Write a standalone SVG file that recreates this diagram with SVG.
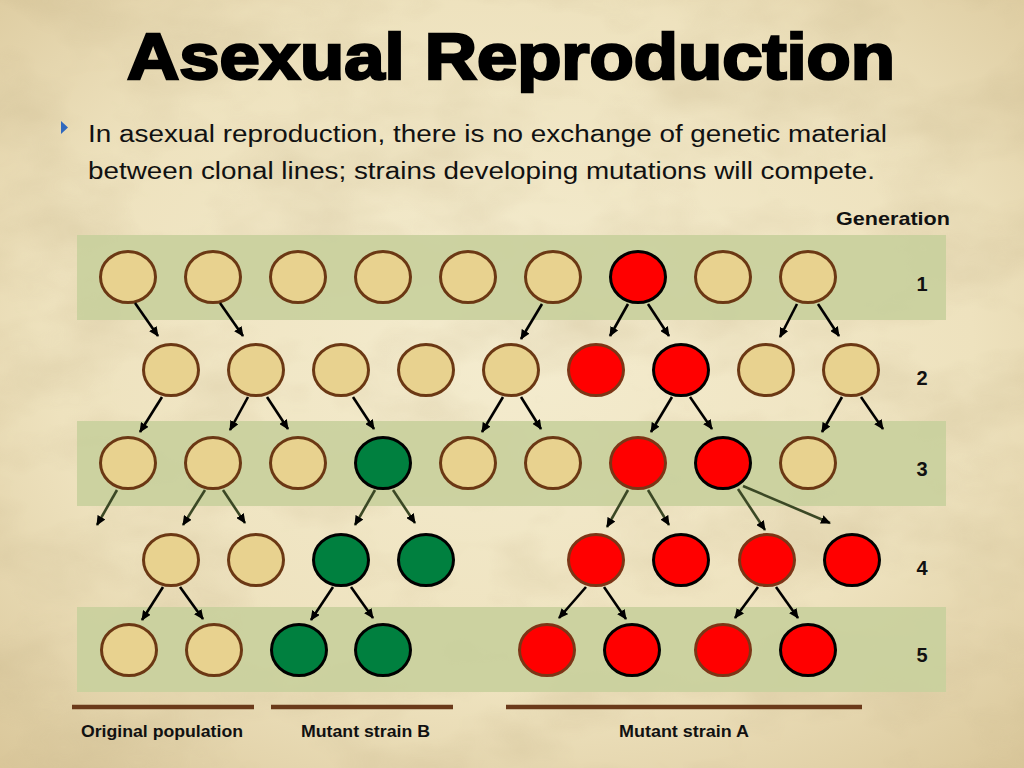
<svg xmlns="http://www.w3.org/2000/svg" width="1024" height="768" viewBox="0 0 1024 768">
<defs>
<radialGradient id="bg" cx="50%" cy="45%" r="75%">
<stop offset="0" stop-color="#F4ECCF"/>
<stop offset="0.6" stop-color="#EEE2BE"/>
<stop offset="1" stop-color="#D9C699"/>
</radialGradient>
<filter id="paper" x="0" y="0" width="100%" height="100%">
<feTurbulence type="fractalNoise" baseFrequency="0.008 0.014" numOctaves="4" seed="7"/>
<feColorMatrix type="matrix" values="0 0 0 0 0.55  0 0 0 0 0.45  0 0 0 0 0.25  0 0 0 1.3 -0.5"/>
</filter>
<marker id="ah" markerUnits="userSpaceOnUse" markerWidth="10" markerHeight="9" refX="9" refY="4.5" orient="auto">
<path d="M0,0 L10,4.5 L0,9 z" fill="#000"/>
</marker>
<style>
.band{fill:#C9D09D;opacity:0.92}
.tan{fill:#E8D28F;stroke:#6B3814;stroke-width:3}
.redb{fill:#FF0000;stroke:#7C3516;stroke-width:3}
.redk{fill:#FF0000;stroke:#000;stroke-width:3}
.grn{fill:#00803F;stroke:#000;stroke-width:3}
.arr{stroke:#000;stroke-width:2.6;fill:none;marker-end:url(#ah)}
.arro{stroke:#3B4825;stroke-width:2.6;fill:none;marker-end:url(#ah)}
.lbl{font-family:"Liberation Sans",Arial,sans-serif;font-weight:bold;fill:#111}
.num{font-family:"Liberation Sans",Arial,sans-serif;font-weight:bold;font-size:20px;fill:#111;text-anchor:middle}
.under{stroke:#6B3A1A;stroke-width:4.5}
</style>
</defs>
<rect width="1024" height="768" fill="url(#bg)"/>
<rect width="1024" height="768" filter="url(#paper)" opacity="0.45"/>

<g id="title">
<text x="127" y="79" textLength="768" lengthAdjust="spacingAndGlyphs" font-family="Liberation Sans, Arial, sans-serif" font-weight="bold" font-size="64" fill="#000" stroke="#000" stroke-width="2.5">Asexual Reproduction</text>
</g>
<g id="bullet">
<polygon points="61,121 68,127.5 61,134" fill="#2F68BE"/>
<text x="88" y="142" textLength="799" lengthAdjust="spacingAndGlyphs" font-family="Liberation Sans, Arial, sans-serif" font-size="23" fill="#111">In asexual reproduction, there is no exchange of genetic material</text>
<text x="88" y="179" textLength="787" lengthAdjust="spacingAndGlyphs" font-family="Liberation Sans, Arial, sans-serif" font-size="23" fill="#111">between clonal lines; strains developing mutations will compete.</text>
</g>

<g id="bands">
<rect class="band" x="77" y="235" width="869" height="85"/>
<rect class="band" x="77" y="421" width="869" height="85"/>
<rect class="band" x="77" y="607" width="869" height="85"/>
</g>

<g id="generation-labels">
<text class="lbl" x="836" y="225" font-size="19" textLength="114" lengthAdjust="spacingAndGlyphs">Generation</text>
<text class="num" x="922" y="291">1</text>
<text class="num" x="922" y="385">2</text>
<text class="num" x="922" y="476">3</text>
<text class="num" x="922" y="575">4</text>
<text class="num" x="922" y="662">5</text>
</g>

<g id="gen1">
<g id="g1n1"><ellipse class="tan" cx="128" cy="277" rx="27.5" ry="25.5"/></g>
<g id="g1n2"><ellipse class="tan" cx="213" cy="277" rx="27.5" ry="25.5"/></g>
<g id="g1n3"><ellipse class="tan" cx="298" cy="277" rx="27.5" ry="25.5"/></g>
<g id="g1n4"><ellipse class="tan" cx="383" cy="277" rx="27.5" ry="25.5"/></g>
<g id="g1n5"><ellipse class="tan" cx="468" cy="277" rx="27.5" ry="25.5"/></g>
<g id="g1n6"><ellipse class="tan" cx="553" cy="277" rx="27.5" ry="25.5"/></g>
<g id="g1n7"><ellipse class="redk" cx="638" cy="277" rx="27.5" ry="25.5"/></g>
<g id="g1n8"><ellipse class="tan" cx="723" cy="277" rx="27.5" ry="25.5"/></g>
<g id="g1n9"><ellipse class="tan" cx="808" cy="277" rx="27.5" ry="25.5"/></g>
</g>
<g id="gen2">
<g id="g2n1"><ellipse class="tan" cx="171" cy="370" rx="27.5" ry="25.5"/></g>
<g id="g2n2"><ellipse class="tan" cx="256" cy="370" rx="27.5" ry="25.5"/></g>
<g id="g2n3"><ellipse class="tan" cx="341" cy="370" rx="27.5" ry="25.5"/></g>
<g id="g2n4"><ellipse class="tan" cx="426" cy="370" rx="27.5" ry="25.5"/></g>
<g id="g2n5"><ellipse class="tan" cx="511" cy="370" rx="27.5" ry="25.5"/></g>
<g id="g2n6"><ellipse class="redb" cx="596" cy="370" rx="27.5" ry="25.5"/></g>
<g id="g2n7"><ellipse class="redk" cx="681" cy="370" rx="27.5" ry="25.5"/></g>
<g id="g2n8"><ellipse class="tan" cx="766" cy="370" rx="27.5" ry="25.5"/></g>
<g id="g2n9"><ellipse class="tan" cx="851" cy="370" rx="27.5" ry="25.5"/></g>
</g>
<g id="gen3">
<g id="g3n1"><ellipse class="tan" cx="128" cy="463" rx="27.5" ry="25.5"/></g>
<g id="g3n2"><ellipse class="tan" cx="213" cy="463" rx="27.5" ry="25.5"/></g>
<g id="g3n3"><ellipse class="tan" cx="298" cy="463" rx="27.5" ry="25.5"/></g>
<g id="g3n4"><ellipse class="grn" cx="383" cy="463" rx="27.5" ry="25.5"/></g>
<g id="g3n5"><ellipse class="tan" cx="468" cy="463" rx="27.5" ry="25.5"/></g>
<g id="g3n6"><ellipse class="tan" cx="553" cy="463" rx="27.5" ry="25.5"/></g>
<g id="g3n7"><ellipse class="redb" cx="638" cy="463" rx="27.5" ry="25.5"/></g>
<g id="g3n8"><ellipse class="redk" cx="723" cy="463" rx="27.5" ry="25.5"/></g>
<g id="g3n9"><ellipse class="tan" cx="808" cy="463" rx="27.5" ry="25.5"/></g>
</g>
<g id="gen4">
<g id="g4n1"><ellipse class="tan" cx="171" cy="560" rx="27.5" ry="25.5"/></g>
<g id="g4n2"><ellipse class="tan" cx="256" cy="560" rx="27.5" ry="25.5"/></g>
<g id="g4n3"><ellipse class="grn" cx="341" cy="560" rx="27.5" ry="25.5"/></g>
<g id="g4n4"><ellipse class="grn" cx="426" cy="560" rx="27.5" ry="25.5"/></g>
<g id="g4n5"><ellipse class="redb" cx="596" cy="560" rx="27.5" ry="25.5"/></g>
<g id="g4n6"><ellipse class="redk" cx="681" cy="560" rx="27.5" ry="25.5"/></g>
<g id="g4n7"><ellipse class="redb" cx="767" cy="560" rx="27.5" ry="25.5"/></g>
<g id="g4n8"><ellipse class="redk" cx="852" cy="560" rx="27.5" ry="25.5"/></g>
</g>
<g id="gen5">
<g id="g5n1"><ellipse class="tan" cx="129" cy="650" rx="27.5" ry="25.5"/></g>
<g id="g5n2"><ellipse class="tan" cx="214" cy="650" rx="27.5" ry="25.5"/></g>
<g id="g5n3"><ellipse class="grn" cx="299" cy="650" rx="27.5" ry="25.5"/></g>
<g id="g5n4"><ellipse class="grn" cx="383" cy="650" rx="27.5" ry="25.5"/></g>
<g id="g5n5"><ellipse class="redb" cx="547" cy="650" rx="27.5" ry="25.5"/></g>
<g id="g5n6"><ellipse class="redk" cx="632" cy="650" rx="27.5" ry="25.5"/></g>
<g id="g5n7"><ellipse class="redb" cx="723" cy="650" rx="27.5" ry="25.5"/></g>
<g id="g5n8"><ellipse class="redk" cx="808" cy="650" rx="27.5" ry="25.5"/></g>
</g>

<g id="connectors">
<line class="arr" x1="135" y1="303" x2="158" y2="336"/>
<line class="arr" x1="220" y1="303" x2="243" y2="336"/>
<line class="arr" x1="542" y1="304" x2="521" y2="339"/>
<line class="arr" x1="628" y1="304" x2="610" y2="336"/>
<line class="arr" x1="648" y1="304" x2="669" y2="336"/>
<line class="arr" x1="797" y1="304" x2="780" y2="337"/>
<line class="arr" x1="818" y1="304" x2="839" y2="336"/>

<line class="arr" x1="162" y1="397" x2="140" y2="432"/>
<line class="arr" x1="248" y1="397" x2="230" y2="430"/>
<line class="arr" x1="267" y1="397" x2="288" y2="429"/>
<line class="arr" x1="353" y1="397" x2="374" y2="429"/>
<line class="arr" x1="503" y1="397" x2="482" y2="432"/>
<line class="arr" x1="521" y1="397" x2="541" y2="429"/>
<line class="arr" x1="672" y1="397" x2="651" y2="432"/>
<line class="arr" x1="690" y1="397" x2="712" y2="429"/>
<line class="arr" x1="842" y1="397" x2="822" y2="432"/>
<line class="arr" x1="861" y1="397" x2="883" y2="429"/>

<line class="arro" x1="117" y1="490" x2="97" y2="525"/>
<line class="arro" x1="205" y1="490" x2="183" y2="525"/>
<line class="arro" x1="223" y1="490" x2="245" y2="523"/>
<line class="arro" x1="375" y1="490" x2="355" y2="525"/>
<line class="arro" x1="393" y1="490" x2="415" y2="523"/>
<line class="arro" x1="628" y1="490" x2="607" y2="527"/>
<line class="arro" x1="648" y1="490" x2="669" y2="525"/>
<line class="arro" x1="738" y1="489" x2="765" y2="530"/>
<line class="arro" x1="743" y1="486" x2="830" y2="523"/>

<line class="arr" x1="163" y1="587" x2="142" y2="620"/>
<line class="arr" x1="180" y1="587" x2="203" y2="619"/>
<line class="arr" x1="333" y1="587" x2="311" y2="620"/>
<line class="arr" x1="351" y1="587" x2="373" y2="618"/>
<line class="arr" x1="586" y1="587" x2="559" y2="618"/>
<line class="arr" x1="604" y1="587" x2="626" y2="619"/>
<line class="arr" x1="758" y1="587" x2="735" y2="618"/>
<line class="arr" x1="776" y1="587" x2="798" y2="618"/>
</g>

<g id="groups">
<line class="under" x1="72" y1="707" x2="254" y2="707"/>
<line class="under" x1="271" y1="707" x2="453" y2="707"/>
<line class="under" x1="506" y1="707" x2="862" y2="707"/>
<text class="lbl" x="81" y="737" font-size="17" textLength="162" lengthAdjust="spacingAndGlyphs">Original population</text>
<text class="lbl" x="301" y="737" font-size="17" textLength="129" lengthAdjust="spacingAndGlyphs">Mutant strain B</text>
<text class="lbl" x="619" y="737" font-size="17" textLength="130" lengthAdjust="spacingAndGlyphs">Mutant strain A</text>
</g>
</svg>
